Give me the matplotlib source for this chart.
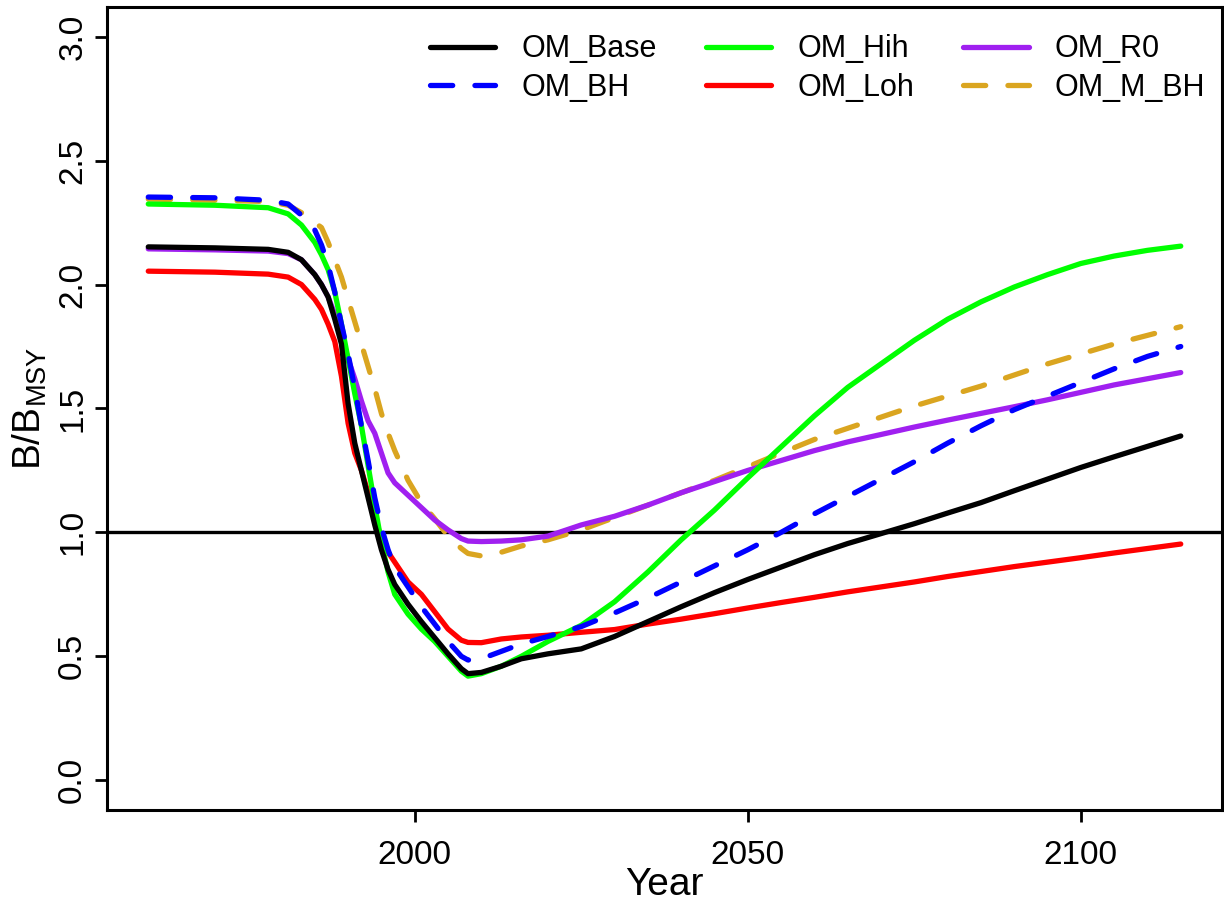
import matplotlib

matplotlib.use("Agg")
import matplotlib.pyplot as plt

plt.rcParams["font.family"] = ["Liberation Sans", "DejaVu Sans"]
plt.rcParams["mathtext.fontset"] = "custom"
plt.rcParams["mathtext.rm"] = "Liberation Sans"
plt.rcParams["lines.scale_dashes"] = False

# Relative spawning biomass by operating model, historical + projection
YEARS = [1960, 1970, 1978, 1981, 1983, 1985, 1986, 1987, 1988, 1989, 1990,
         1991, 1992, 1993, 1994, 1995, 1996, 1997, 1999, 2001, 2003, 2005,
         2007, 2008, 2010, 2013, 2016, 2020, 2025, 2030, 2035, 2040, 2045,
         2050, 2055, 2060, 2065, 2070, 2075, 2080, 2085, 2090, 2095, 2100,
         2105, 2110, 2115]

OM_BASE = [2.152, 2.148, 2.142, 2.13, 2.10, 2.04, 2.00, 1.95, 1.86, 1.76, 1.52,
           1.36, 1.25, 1.14, 1.03, 0.93, 0.85, 0.79, 0.71, 0.64, 0.575, 0.51,
           0.45, 0.43, 0.435, 0.46, 0.49, 0.51, 0.53, 0.58, 0.64, 0.70, 0.757,
           0.81, 0.86, 0.91, 0.955, 0.995, 1.035, 1.078, 1.12, 1.168, 1.215,
           1.262, 1.305, 1.347, 1.389]
OM_BH = [2.353, 2.35, 2.34, 2.325, 2.28, 2.22, 2.16, 2.08, 1.97, 1.84, 1.72,
         1.58, 1.43, 1.29, 1.14, 1.02, 0.93, 0.86, 0.78, 0.70, 0.63, 0.56,
         0.50, 0.485, 0.49, 0.52, 0.55, 0.58, 0.62, 0.675, 0.735, 0.80, 0.865,
         0.93, 1.0, 1.075, 1.145, 1.215, 1.285, 1.36, 1.43, 1.495, 1.55, 1.605,
         1.66, 1.71, 1.75]
OM_HIH = [2.325, 2.32, 2.31, 2.285, 2.24, 2.17, 2.12, 2.06, 1.97, 1.84, 1.70,
          1.56, 1.43, 1.27, 1.11, 0.96, 0.84, 0.75, 0.67, 0.61, 0.56, 0.50,
          0.44, 0.42, 0.43, 0.46, 0.50, 0.56, 0.625, 0.72, 0.84, 0.97, 1.09,
          1.22, 1.345, 1.47, 1.585, 1.68, 1.775, 1.86, 1.93, 1.99, 2.04, 2.085,
          2.115, 2.138, 2.155]
OM_LOH = [2.054, 2.05, 2.042, 2.03, 2.0, 1.94, 1.90, 1.84, 1.77, 1.63, 1.44,
          1.32, 1.25, 1.16, 1.07, 0.97, 0.92, 0.88, 0.80, 0.75, 0.68, 0.61,
          0.565, 0.556, 0.555, 0.57, 0.578, 0.585, 0.597, 0.608, 0.63, 0.65,
          0.672, 0.695, 0.717, 0.738, 0.76, 0.78, 0.80, 0.822, 0.842, 0.862,
          0.88, 0.898, 0.917, 0.935, 0.953]
OM_R0 = [2.144, 2.14, 2.135, 2.125, 2.10, 2.04, 2.0, 1.95, 1.88, 1.79, 1.70,
         1.62, 1.53, 1.45, 1.40, 1.32, 1.24, 1.20, 1.15, 1.10, 1.05, 1.01,
         0.975, 0.965, 0.963, 0.965, 0.97, 0.985, 1.03, 1.065, 1.11, 1.16,
         1.205, 1.25, 1.29, 1.33, 1.365, 1.395, 1.425, 1.453, 1.48, 1.507,
         1.535, 1.565, 1.595, 1.62, 1.645]
OM_M_BH = [2.345, 2.34, 2.335, 2.32, 2.29, 2.25, 2.23, 2.17, 2.10, 2.03, 1.94,
           1.85, 1.76, 1.67, 1.58, 1.48, 1.40, 1.33, 1.21, 1.12, 1.055, 0.985,
           0.935, 0.915, 0.905, 0.92, 0.945, 0.97, 1.01, 1.06, 1.11, 1.16,
           1.21, 1.265, 1.32, 1.375, 1.42, 1.465, 1.51, 1.55, 1.59, 1.635,
           1.68, 1.72, 1.76, 1.795, 1.83]

LABELS = ["OM_Base", "OM_BH", "OM_Hih", "OM_Loh", "OM_R0", "OM_M_BH"]
SERIES = [OM_BASE, OM_BH, OM_HIH, OM_LOH, OM_R0, OM_M_BH]
COLORS = ["black", "#0000FF", "#00FF00", "#FF0000", "#A020F0", "#DAA520"]
DASHED = [False, True, False, False, False, True]
ZORDER = [8, 7, 6, 5, 4, 3]

X_TICKS = [2000, 2050, 2100]
Y_TICKS = [0.0, 0.5, 1.0, 1.5, 2.0, 2.5, 3.0]

fig = plt.figure(figsize=(12.24, 9.05), dpi=100)
ax = fig.add_axes([0.0874, 0.105, 0.911, 0.8873])

handles = []
for lab, y, col, dash, z in zip(LABELS, SERIES, COLORS, DASHED, ZORDER):
    (ln,) = ax.plot(YEARS, y, color=col, lw=3.8, label=lab, zorder=z,
                    solid_capstyle="round", dash_capstyle="round",
                    solid_joinstyle="round")
    if dash:
        ln.set_dashes((16, 16))
    handles.append(ln)

ax.axhline(1.0, color="black", lw=2.4, zorder=2)

ax.set_xlim(1953.8, 2121.2)
ax.set_ylim(-0.12, 3.12)
ax.set_xticks(X_TICKS)
ax.set_yticks(Y_TICKS)
ax.set_yticklabels([f"{v:.1f}" for v in Y_TICKS], rotation=90, va="center")
ax.tick_params(axis="both", which="major", labelsize=24, width=2.0,
               length=8.5, color="black")
ax.tick_params(axis="x", pad=13)
ax.tick_params(axis="y", pad=5)
for sp in ax.spines.values():
    sp.set_linewidth(2.2)

ax.set_xlabel("Year", fontsize=28, labelpad=-3)
ax.set_ylabel(r"$\mathregular{B/B_{MSY}}$", fontsize=28, labelpad=6)

ax.legend(handles=handles, ncol=3, loc="upper right",
          bbox_to_anchor=(0.985, 0.966), frameon=False, fontsize=22,
          handlelength=2.15, handletextpad=0.85, columnspacing=1.6,
          labelspacing=0.28, borderpad=0, borderaxespad=0)

fig.savefig("out.png", dpi=100)
